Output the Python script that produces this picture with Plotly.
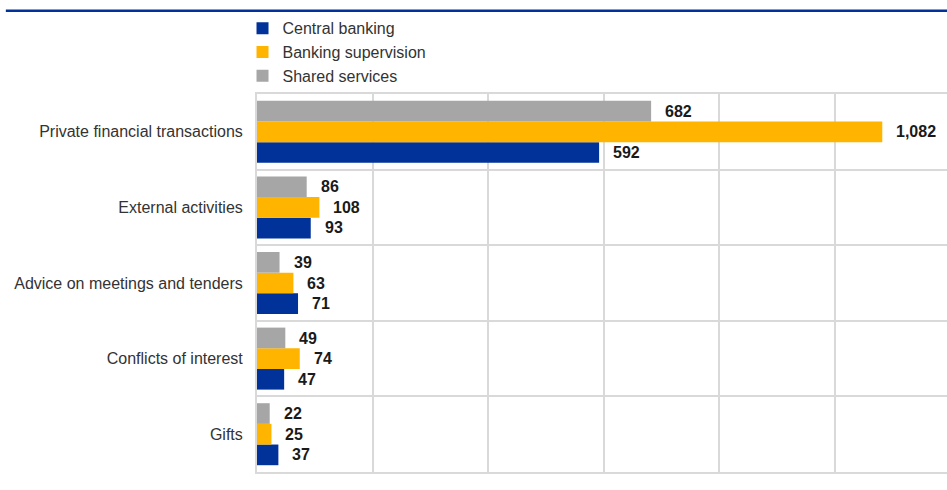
import plotly.graph_objects as go

# Categories, listed top to bottom as they appear on the chart
categories = [
    "Private financial transactions",
    "External activities",
    "Advice on meetings and tenders",
    "Conflicts of interest",
    "Gifts",
]

central_banking = [592, 93, 71, 47, 37]
banking_supervision = [1082, 108, 63, 74, 25]
shared_services = [682, 86, 39, 49, 22]

series = [
    ("Central banking", central_banking, "#003299"),
    ("Banking supervision", banking_supervision, "#FFB400"),
    ("Shared services", shared_services, "#A6A6A6"),
]

FONT = "Liberation Sans, Arial, sans-serif"
GRID = "#D9D9D9"

fig = go.Figure()
for name, values, color in series:
    fig.add_trace(go.Bar(
        name=name,
        y=categories,
        x=values,
        orientation="h",
        marker=dict(color=color, line=dict(width=0)),
    ))

# Value labels placed just past the end of each bar
n = len(series)
for i, (name, values, color) in enumerate(series):
    for cat, v in zip(categories, values):
        fig.add_annotation(
            x=v, y=cat, xref="x", yref="y",
            text=f"<b>{v:,}</b>",
            showarrow=False, xanchor="left", xshift=12,
            yshift=(i - (n - 1) / 2) * 20.5,
            font=dict(family=FONT, size=16, color="#1A1A1A"),
        )

# Dark blue rule across the top
fig.add_shape(type="line", xref="paper", yref="paper",
              x0=-0.364, x1=1.0, y0=1.22, y1=1.22,
              line=dict(color="#003299", width=2.5))

fig.update_layout(
    width=947, height=490,
    margin=dict(l=257, r=0, t=94, b=18, autoexpand=False),
    paper_bgcolor="white", plot_bgcolor="white",
    barmode="group", bargap=0.18, bargroupgap=0,
    font=dict(family=FONT, size=16, color="#333333"),
    showlegend=True,
    legend=dict(
        x=-0.021, xanchor="left", y=1.002, yanchor="bottom",
        font=dict(family=FONT, size=16, color="#333333"),
        bgcolor="rgba(0,0,0,0)", traceorder="normal",
        itemclick=False, itemdoubleclick=False,
    ),
    xaxis=dict(
        range=[0, 1194], dtick=200, showticklabels=False, ticks="",
        showgrid=True, gridcolor=GRID, gridwidth=2, zeroline=False,
        showline=True, mirror=True, linecolor=GRID, linewidth=2,
    ),
    yaxis=dict(
        categoryorder="array", categoryarray=categories[::-1],
        tickson="boundaries", ticks="", ticklen=0,
        showgrid=True, gridcolor=GRID, gridwidth=2,
        showline=True, linecolor=GRID, linewidth=2,
        ticklabelstandoff=9,
        tickfont=dict(family=FONT, size=16, color="#333333"),
    ),
)

fig.write_html("out.html")
